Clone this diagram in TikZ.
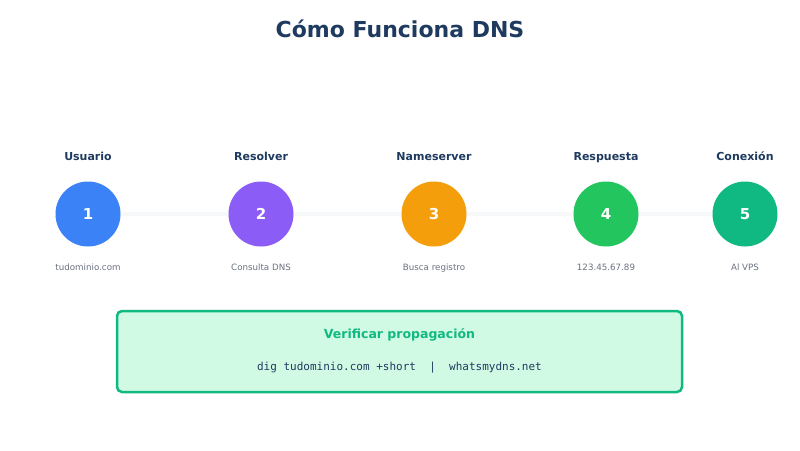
\documentclass[tikz,border=0pt]{standalone}
\usepackage{fontspec}
\setmainfont{DejaVu Sans}
\setmonofont{DejaVu Sans Mono}
\definecolor{navy}{HTML}{1E3A5F}
\definecolor{subgray}{HTML}{6B7280}
\definecolor{cblue}{HTML}{3B82F6}
\definecolor{cpurple}{HTML}{8B5CF6}
\definecolor{corange}{HTML}{F59E0B}
\definecolor{cgreen}{HTML}{22C55E}
\definecolor{cemerald}{HTML}{10B981}
\definecolor{boxfill}{HTML}{D1FAE5}
\definecolor{linegray}{HTML}{F7F8FA}
\tikzset{
  stepcircle/.style={circle, minimum size=65pt, inner sep=0pt, fill=#1, text=white, font=\fontsize{15}{18}\selectfont\bfseries},
  toplabel/.style={anchor=base, text=navy, font=\fontsize{11}{13}\selectfont\bfseries},
  botlabel/.style={anchor=base, text=subgray, font=\fontsize{8.7}{10}\selectfont},
}
\begin{document}
\begin{tikzpicture}[x=1pt,y=-1pt]
\useasboundingbox (0,0) rectangle (800,450);
\fill[white] (0,0) rectangle (800,450);
\node[anchor=base, text=navy, font=\fontsize{22}{26}\selectfont\bfseries] (title) at (400,37) {Cómo Funciona DNS};

\coordinate (lineA) at (88,214);
\coordinate (lineB) at (745,214);
\draw[linegray, line width=4pt] (lineA) -- (lineB);

\node[stepcircle=cblue] (c1) at (88,214) {1};
\node[stepcircle=cpurple] (c2) at (261,214) {2};
\node[stepcircle=corange] (c3) at (434,214) {3};
\node[stepcircle=cgreen] (c4) at (606,214) {4};
\node[stepcircle=cemerald] (c5) at (745,214) {5};

\node[toplabel] (t1) at (88,160) {Usuario};
\node[toplabel] (t2) at (261,160) {Resolver};
\node[toplabel] (t3) at (434,160) {Nameserver};
\node[toplabel] (t4) at (606,160) {Respuesta};
\node[toplabel] (t5) at (745,160) {Conexión};

\node[botlabel] (b1) at (88,270) {tudominio.com};
\node[botlabel] (b2) at (261,270) {Consulta DNS};
\node[botlabel] (b3) at (434,270) {Busca registro};
\node[botlabel] (b4) at (606,270) {123.45.67.89};
\node[botlabel] (b5) at (745,270) {Al VPS};

\draw[fill=boxfill, draw=cemerald, line width=2.5pt, rounded corners=5pt] (117,311) rectangle (682,392);
\node[anchor=base, text=cemerald, font=\fontsize{12.5}{15}\selectfont\bfseries] (vtitle) at (399.5,338.5) {Verificar propagación};
\node[anchor=base, text=navy, font=\fontsize{11}{13}\selectfont\ttfamily] (cmd) at (399.5,370) {dig tudominio.com +short\ \ |\ \ whatsmydns.net};
\end{tikzpicture}
\end{document}
